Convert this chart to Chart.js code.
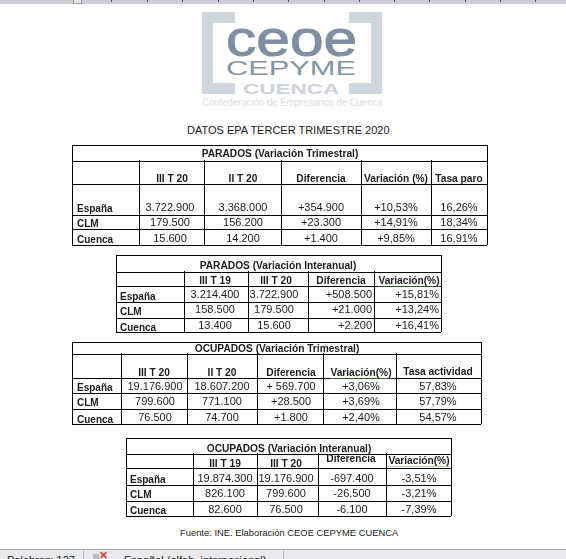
<!DOCTYPE html>
<html lang="es">
<head>
<meta charset="utf-8">
<title>Datos EPA tercer trimestre 2020</title>
<script src="https://cdn.jsdelivr.net/npm/chart.js@4"></script>
<style>
  html, body { margin: 0; background: #fff; }
  #page { position: relative; width: 566px; height: 559px; overflow: hidden; font-family: "Liberation Sans", Arial, sans-serif; }
  #page > * { position: absolute; }
  canvas { display: block; }
  .ruler { left: 0; top: 0; width: 566px; height: 4px; background: #cbced4; }
  .rtick { top: 0; width: 1px; height: 2px; background: #555; }
  .marker { left: 73px; top: 0; width: 7px; height: 3px; background: #e6e6e6; border: 1px solid #999; border-top: 0; }
  .br { background: #d0d6dd; }
  .logo { white-space: nowrap; transform-origin: 0 0; line-height: 1; }
  .status { left: 0; top: 549px; width: 566px; height: 10px; background: #e8eaee; border-top: 1px solid #a9acb2; box-sizing: border-box; }
  .sep { top: 550px; width: 1px; height: 9px; background: #b5b8bd; }
  .stext { top: 554px; font-size: 11px; line-height: 13px; color: #222; white-space: nowrap; }
</style>
</head>
<body>
<div id="page">
  <div class="ruler"></div>
  <div class="marker"></div>
  <div class="rtick" style="left:111px"></div>
  <div class="rtick" style="left:147px"></div>
  <div class="rtick" style="left:182px"></div>
  <div class="rtick" style="left:218px"></div>
  <div class="rtick" style="left:253px"></div>
  <div class="rtick" style="left:288px"></div>
  <div class="rtick" style="left:324px"></div>
  <div class="rtick" style="left:359px"></div>
  <div class="rtick" style="left:394px"></div>
  <div class="rtick" style="left:429px"></div>
  <div class="rtick" style="left:465px"></div>
  <div class="rtick" style="left:500px"></div>
  <div class="rtick" style="left:535px"></div>

  <div class="br" style="left:202px;top:12px;width:33px;height:11px"></div>
  <div class="br" style="left:202px;top:12px;width:11px;height:82px"></div>
  <div class="br" style="left:202px;top:83px;width:33px;height:11px"></div>
  <div class="br" style="left:349px;top:12px;width:33px;height:11px"></div>
  <div class="br" style="left:371px;top:12px;width:11px;height:82px"></div>
  <div class="br" style="left:349px;top:83px;width:33px;height:11px"></div>
  <div class="logo" style="left:226px;top:14px;font-size:50px;color:#7f8fa3;-webkit-text-stroke:1px #7f8fa3;transform:scaleX(1.21)">ceoe</div>
  <div class="logo" style="left:226px;top:58px;font-size:20px;color:#8494a8;transform:scaleX(1.54)">CEPYME</div>
  <div class="logo" style="left:243px;top:81px;font-size:15px;font-weight:bold;color:#cdd3da;transform:scaleX(1.5)">CUENCA</div>
  <div class="logo" style="left:202px;top:97px;font-size:10.5px;color:#d9dde2;transform:scaleX(0.91)">Confederación de Empresarios de Cuenca</div>

  <div style="left:187px;top:124px;font-size:11px;line-height:13px;color:#222;white-space:nowrap">DATOS EPA TERCER TRIMESTRE 2020</div>

  <canvas id="table1"></canvas>
  <canvas id="table2"></canvas>
  <canvas id="table3"></canvas>
  <canvas id="table4"></canvas>

  <div style="left:180px;top:527px;font-size:9.4px;line-height:12px;color:#222;white-space:nowrap">Fuente: INE. Elaboración CEOE CEPYME CUENCA</div>

  <div class="status"></div>
  <div class="sep" style="left:83px"></div>
  <div class="sep" style="left:283px"></div>
  <div class="stext" style="left:7px">Palabras: 127</div>
  <div style="left:93px;top:554px;width:6px;height:5px;background:#bbb"></div>
  <div class="stext" style="left:99px;top:549px;color:#d8402b;font-weight:bold">✕</div>
  <div class="stext" style="left:124px">Español (alfab. internacional)</div>
</div>

<script>
const rowNames = ["España", "CLM", "Cuenca"];

// PARADOS trimestral
const title1 = "PARADOS (Variación Trimestral)";
const heads1 = ["III T 20", "II T 20", "Diferencia", "Variación (%)", "Tasa paro"];
const col1a = ["3.722.900", "179.500", "15.600"];
const col1b = ["3.368.000", "156.200", "14.200"];
const col1c = ["+354.900", "+23.300", "+1.400"];
const col1d = ["+10,53%", "+14,91%", "+9,85%"];
const col1e = ["16,26%", "18,34%", "16,91%"];

// PARADOS interanual
const title2 = "PARADOS (Variación Interanual)";
const heads2 = ["III T 19", "III T 20", "Diferencia", "Variación(%)"];
const col2a = ["3.214.400", "158.500", "13.400"];
const col2b = ["3.722.900", "179.500", "15.600"];
const col2c = ["+508.500", "+21.000", "+2.200"];
const col2d = ["+15,81%", "+13,24%", "+16,41%"];

// OCUPADOS trimestral
const title3 = "OCUPADOS (Variación Trimestral)";
const heads3 = ["III T 20", "II T 20", "Diferencia", "Variación(%)", "Tasa actividad"];
const col3a = ["19.176.900", "799.600", "76.500"];
const col3b = ["18.607.200", "771.100", "74.700"];
const col3c = ["+ 569.700", "+28.500", "+1.800"];
const col3d = ["+3,06%", "+3,69%", "+2,40%"];
const col3e = ["57,83%", "57,79%", "54,57%"];

// OCUPADOS interanual
const title4 = "OCUPADOS (Variación Interanual)";
const heads4 = ["III T 19", "III T 20", "Diferencia", "Variación(%)"];
const col4a = ["19.874.300", "826.100", "82.600"];
const col4b = ["19.176.900", "799.600", "76.500"];
const col4c = ["-697.400", "-26.500", "-6.100"];
const col4d = ["-3,51%", "-3,21%", "-7,39%"];

const titleFont = "bold 10.2px 'Liberation Sans'";
const headFont = "bold 10.2px 'Liberation Sans'";
const labelFont = "bold 10px 'Liberation Sans'";
const valueFont = "11px 'Liberation Sans'";

// cell text goes on the chart as invisible points, the plugin writes it at the point's pixel
const cellText = {
  id: "cellText",
  beforeDatasetsDraw(chart) {
    // no column lines in the title row
    const { ctx, scales: { x, y } } = chart;
    const ys = chart.options.plugins.cellText.rows;
    ctx.fillStyle = "#fff";
    ctx.fillRect(x.left + 1, y.getPixelForValue(ys[0]) + 1, x.width - 2, y.getPixelForValue(ys[1]) - y.getPixelForValue(ys[0]) - 2);
  },
  afterDatasetsDraw(chart) {
    const { ctx } = chart;
    const points = chart.getDatasetMeta(0).data;
    chart.data.datasets[0].data.forEach((c, i) => {
      ctx.font = c.font;
      ctx.textAlign = c.align;
      ctx.textBaseline = "alphabetic";
      ctx.fillStyle = "#1c1c1c";
      ctx.fillText(c.text, points[i].x, points[i].y);
      if (c.squiggle) {
        const w = ctx.measureText(c.text).width;
        ctx.strokeStyle = "#6fa35a";
        ctx.setLineDash([1, 1]);
        ctx.beginPath();
        ctx.moveTo(points[i].x - w / 2, points[i].y + 2.5);
        ctx.lineTo(points[i].x + w / 2, points[i].y + 2.5);
        ctx.stroke();
        ctx.setLineDash([]);
      }
    });
  }
};

function drawTable(id, title, heads, columns, layout) {
  const { cols, rows, titleX, titleY, headX, headY, labelX, labelY, valueX, valueY, align } = layout;
  const cells = [{ x: titleX, y: titleY, text: title, font: titleFont, align: "center" }];

  heads.forEach((h, i) => {
    cells.push({ x: headX[i], y: headY[i], text: h, font: headFont, align: "center", squiggle: layout.squiggle && h === "Variación(%)" });
  });
  rowNames.forEach((name, r) => {
    cells.push({ x: labelX, y: labelY[r], text: name, font: labelFont, align: "left" });
    columns.forEach((col, c) => {
      cells.push({ x: valueX[c], y: valueY[r], text: col[r], font: valueFont, align: align[c] });
    });
  });

  const canvas = document.getElementById(id);
  const w = cols[cols.length - 1] - cols[0];
  const h = rows[rows.length - 1] - rows[0];
  canvas.width = w + 2;
  canvas.height = h + 2;
  canvas.style.position = "absolute";
  canvas.style.left = cols[0] - 1 + "px";
  canvas.style.top = rows[0] - 1 + "px";

  new Chart(canvas, {
    type: "scatter",
    data: { datasets: [{ data: cells, pointRadius: 0, clip: false }] },
    plugins: [cellText],
    options: {
      responsive: false,
      animation: false,
      devicePixelRatio: 1,
      layout: { padding: 1 },
      events: [],
      plugins: { legend: { display: false }, tooltip: { enabled: false }, cellText: { rows } },
      scales: {
        x: {
          type: "linear",
          min: cols[0],
          max: cols[cols.length - 1],
          afterBuildTicks: (axis) => { axis.ticks = cols.map((value) => ({ value })); },
          grid: { color: "#000", drawTicks: false },
          border: { display: false },
          ticks: { display: false, autoSkip: false }
        },
        y: {
          type: "linear",
          reverse: true,
          min: rows[0],
          max: rows[rows.length - 1],
          afterBuildTicks: (axis) => { axis.ticks = rows.map((value) => ({ value })); },
          grid: { color: "#000", drawTicks: false },
          border: { display: false },
          ticks: { display: false, autoSkip: false }
        }
      }
    }
  });
}

drawTable("table1", title1, heads1, [col1a, col1b, col1c, col1d, col1e], {
  cols: [72, 139, 204, 282, 361, 431, 487],
  rows: [145, 161, 184, 215, 229, 245],
  titleX: 280, titleY: 157,
  headX: [172, 243, 321, 396, 459], headY: [182, 182, 182, 182, 182],
  labelX: 77, labelY: [212, 227, 243],
  valueX: [170, 243, 321, 396, 459], valueY: [211, 226, 242],
  align: ["center", "center", "center", "center", "center"]
});

drawTable("table2", title2, heads2, [col2a, col2b, col2c, col2d], {
  cols: [116, 184, 248, 308, 374, 441],
  rows: [255, 272, 286, 302, 318, 332],
  titleX: 278, titleY: 269,
  headX: [215, 276, 341, 409], headY: [284, 284, 284, 284],
  labelX: 120, labelY: [300, 315, 331],
  valueX: [215, 274, 372, 439], valueY: [298, 313, 329],
  align: ["center", "center", "right", "right"],
  squiggle: true
});

drawTable("table3", title3, heads3, [col3a, col3b, col3c, col3d, col3e], {
  cols: [72, 121, 187, 257, 324, 396, 481],
  rows: [342, 354, 378, 393, 409, 424],
  titleX: 277, titleY: 352,
  headX: [154, 222, 291, 361, 438], headY: [376, 376, 376, 376, 375],
  labelX: 77, labelY: [391, 406, 423],
  valueX: [155, 222, 291, 361, 438], valueY: [390, 405, 421],
  align: ["center", "center", "center", "center", "center"],
  squiggle: true
});

drawTable("table4", title4, heads4, [col4a, col4b, col4c, col4d], {
  cols: [126, 193, 257, 319, 386, 451],
  rows: [438, 454, 469, 485, 501, 516],
  titleX: 289, titleY: 452,
  headX: [225, 286, 351, 419], headY: [467, 467, 462, 464],
  labelX: 130, labelY: [483, 498, 514],
  valueX: [225, 286, 352, 419], valueY: [482, 497, 513],
  align: ["center", "center", "center", "center"],
  squiggle: true
});
</script>
</body>
</html>
